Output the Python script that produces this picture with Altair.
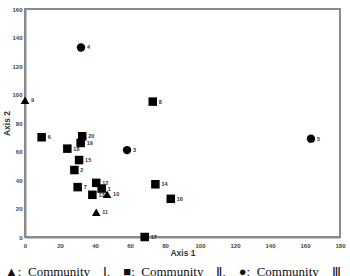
import altair as alt
import pandas as pd

ids = [str(i) for i in range(1, 21)]
axis1 = [43.8, 28.2, 58.3, 32, 163.4, 9.5, 30.1, 73, 0, 46.9, 40.7, 40.7, 38.5, 74.5, 30.9, 83.3, 68.4, 24.2, 31.8, 32.7]
axis2 = [34, 47, 61, 133, 69, 70, 35, 95, 96, 30, 17.4, 38, 29.6, 37, 54, 26.8, 0, 62, 66, 70.7]
community = ["II", "II", "III", "III", "III", "II", "II", "II", "I", "I", "I", "II", "II", "II", "II", "II", "II", "II", "II", "II"]
legend_text = "▲:\u2002Community\u2002\u2002Ⅰ,\u2002\u2002■:\u2002Community\u2002\u2002Ⅱ,\u2002\u2002●:\u2002Community\u2002\u2002Ⅲ"

df = pd.DataFrame({"id": ids, "a1": axis1, "a2": axis2, "c": community})

common = dict(grid=False, ticks=False, labelFontSize=6, labelFontWeight="bold", labelColor="#444",
              domainColor="#8a8a8a", domainWidth=2, labelOverlap=False, labelFlush=False,
              titleFontSize=8.5, titleFontWeight="bold", titleColor="#333")

x = alt.X("a1:Q", scale=alt.Scale(domain=[0, 180], nice=False),
          axis=alt.Axis(title="Axis 1", values=list(range(0, 181, 20)), labelPadding=5, titlePadding=0, **common))
y = alt.Y("a2:Q", scale=alt.Scale(domain=[0, 160], nice=False),
          axis=alt.Axis(title="Axis 2", values=list(range(0, 161, 20)), labelPadding=3,
                        titleX=-14, titleY=114, **common))

pts = alt.Chart(df).mark_point(filled=True, opacity=1, color="black").encode(
    x=x, y=y,
    shape=alt.Shape("c:N", scale=alt.Scale(domain=["I", "II", "III"], range=["triangle-up", "square", "circle"]), legend=None),
    size=alt.Size("c:N", scale=alt.Scale(domain=["I", "II", "III"], range=[75, 70, 85]), legend=None),
)
labels = alt.Chart(df).mark_text(align="left", dx=6, fontSize=5.5, fontWeight="bold", color="#333").encode(
    x=x, y=y, text="id:N")

chart = (pts + labels).properties(
    width=315, height=228,
    title=alt.TitleParams(legend_text,
                          orient="bottom", fontSize=13, font="Liberation Serif, serif",
                          fontWeight="normal", color="#111", offset=9, anchor="start", frame="group", dx=-20),
    padding={"left": 25, "top": 9, "right": 10, "bottom": 39},
    autosize=alt.AutoSizeParams(type="none"),
).configure_view(stroke="#8a8a8a", strokeWidth=2)

chart.save("out.html", embed_options={"renderer": "svg", "actions": False})
